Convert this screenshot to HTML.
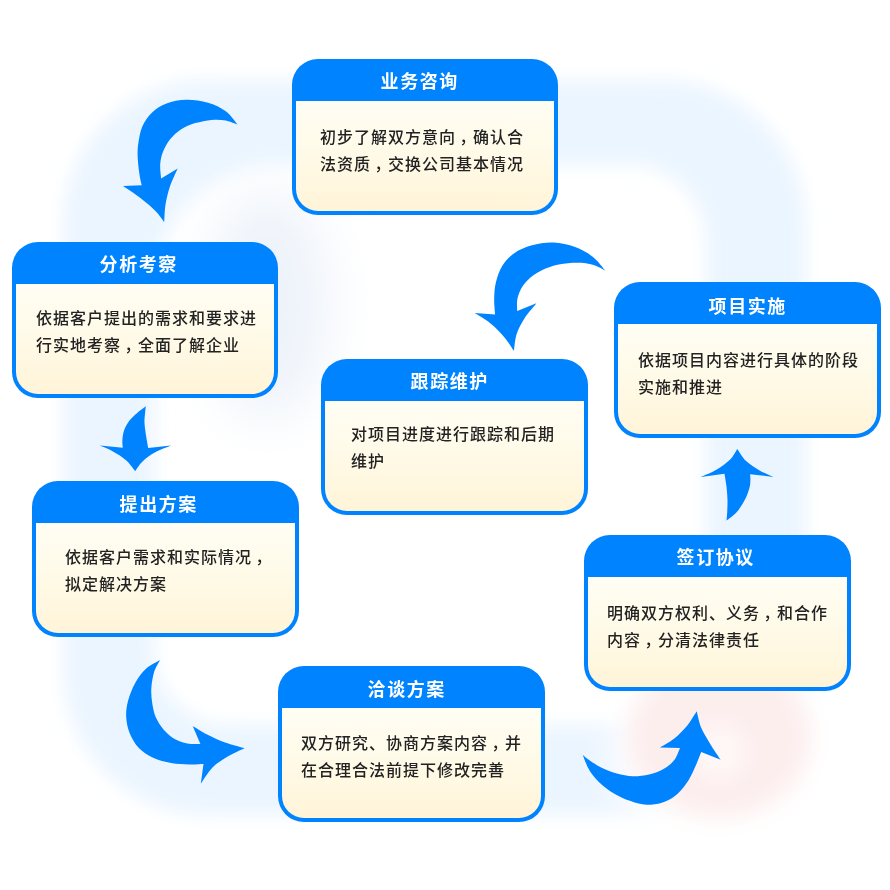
<!DOCTYPE html>
<html lang="zh-CN">
<head>
<meta charset="utf-8">
<title>业务流程</title>
<style>
html,body{margin:0;padding:0;background:#fff;}
body{width:890px;height:890px;position:relative;overflow:hidden;font-family:"Liberation Sans","Noto Sans CJK SC",sans-serif;}
#bg{position:absolute;left:0;top:0;width:890px;height:890px;}
#arrows{position:absolute;left:0;top:0;width:890px;height:890px;}
.box{position:absolute;width:266.5px;height:156px;box-sizing:border-box;border-radius:26px;background:#0083ff;overflow:hidden;}
.box h3{will-change:transform;position:relative;margin:0;padding:3px 11px 0 0;height:39px;line-height:40px;text-align:center;color:#fff;font-size:18px;font-weight:bold;letter-spacing:1.6px;}
.box .bd{position:absolute;left:4px;right:4px;top:42px;bottom:4px;border-radius:0 0 22px 22px;background:linear-gradient(#fffef4 0%,#fffbea 40%,#fff4d8 100%);}
.box p i{font-style:normal;position:relative;left:3.5px;}
.box p{will-change:transform;margin:0;position:absolute;top:23px;font-size:16px;font-weight:500;line-height:27px;color:#222;letter-spacing:1px;white-space:nowrap;}
</style>
</head>
<body>
<svg id="bg" viewBox="0 0 890 890">
<defs>
<filter id="bl" x="-20%" y="-20%" width="140%" height="140%"><feGaussianBlur stdDeviation="9"/></filter>
<filter id="bl2" x="-50%" y="-50%" width="200%" height="200%"><feGaussianBlur stdDeviation="18"/></filter>
<filter id="bl4" x="-50%" y="-50%" width="200%" height="200%"><feGaussianBlur stdDeviation="11"/></filter>
<filter id="bl3" x="-50%" y="-50%" width="200%" height="200%"><feGaussianBlur stdDeviation="25"/></filter>
</defs>
<g filter="url(#bl3)"><ellipse cx="268" cy="305" rx="62" ry="115" fill="#eef3fa"/></g>
<g filter="url(#bl)">
<path fill="#ebf5ff" fill-rule="evenodd" d="M208 80H661A145 145 0 0 1 806 225V670A145 145 0 0 1 661 815H208A145 145 0 0 1 63 670V225A145 145 0 0 1 208 80Z M279 165A125 125 0 0 0 154 290V650A75 75 0 0 0 229 725H631A75 75 0 0 0 706 650V240A75 75 0 0 0 631 165Z"/>
</g>
<g filter="url(#bl2)">
<circle cx="722" cy="750" r="108" fill="#ffffff"/>
</g>
<g filter="url(#bl4)">
<ellipse cx="719" cy="738" rx="92" ry="80" fill="#fdeeee"/>
<circle cx="719" cy="752" r="26" fill="#fff8f8"/>
</g>
</svg>
<svg id="arrows" viewBox="0 0 890 890">
<g fill="#0083ff">
<path d="M237.5 124.6C235.6 122.4 230.8 114.9 225.8 111.3C220.9 107.6 214.5 104.6 207.9 102.7C201.3 100.7 193.2 99.7 186.3 99.8C179.4 99.9 172.2 101.3 166.5 103.4C160.8 105.5 156.2 108.5 152.1 112.4C148.1 116.3 144.6 121.3 142.2 126.7C139.9 132.1 138.9 139.3 138.1 144.7C137.4 150.1 137.5 154.0 137.8 159.1C138.0 164.2 138.9 170.9 139.6 175.3C140.2 179.6 141.3 183.5 141.7 185.2L123.0 186.1C126.1 188.2 135.9 194.5 141.3 198.7C146.8 202.8 151.9 207.3 155.7 211.2C159.5 215.1 162.8 220.2 164.2 222.0C164.4 219.0 164.6 210.0 165.6 204.0C166.6 198.1 168.1 192.0 170.1 186.1C172.1 180.2 176.4 171.5 177.7 168.6L161.1 178.5C161.0 176.2 159.9 168.9 160.2 164.5C160.5 160.1 161.3 156.1 162.9 151.9C164.6 147.7 167.1 143.1 170.1 139.3C173.1 135.6 176.7 132.1 180.9 129.4C185.1 126.7 190.2 124.7 195.3 123.1C200.4 121.6 206.4 120.4 211.5 119.9C216.6 119.5 221.5 119.7 225.8 120.4C230.2 121.2 235.6 123.9 237.5 124.6Z"/>
<path d="M605.6 271.0C603.5 268.7 598.1 261.0 593.0 257.0C587.9 253.0 581.6 249.5 575.1 247.1C568.5 244.7 560.7 242.9 553.5 242.6C546.3 242.3 538.5 243.5 531.9 245.3C525.3 247.1 518.9 249.9 513.9 253.4C509.0 256.8 505.2 261.2 502.2 266.0C499.3 270.7 497.3 276.7 496.0 282.1C494.6 287.5 494.3 292.9 494.2 298.3C494.0 303.7 494.9 311.8 495.1 314.5L474.7 313.1C477.4 314.8 485.5 319.3 490.6 323.5C495.6 327.6 501.0 333.3 504.9 337.9C508.8 342.4 512.4 348.7 513.9 350.8C514.4 348.1 514.8 339.7 516.6 334.3C518.4 328.8 521.4 323.2 524.7 318.1C528.0 312.9 534.5 305.8 536.4 303.3L517.2 310.9C517.2 308.8 516.6 302.5 517.5 298.3C518.5 294.1 520.2 289.6 522.9 285.7C525.6 281.8 529.2 278.1 533.7 274.9C538.2 271.8 544.2 268.8 549.9 266.9C555.6 264.9 561.9 263.9 567.9 263.3C573.9 262.7 580.7 262.7 585.8 263.3C590.9 263.9 595.1 265.6 598.4 266.9C601.7 268.1 604.4 270.3 605.6 271.0Z"/>
<path d="M145.8 406.2C144.4 407.4 139.9 410.5 137.2 413.0C134.4 415.4 131.5 418.0 129.3 420.8C127.2 423.7 125.4 426.6 124.3 429.8C123.1 433.0 122.6 436.9 122.4 439.9C122.1 442.9 122.7 446.5 122.8 447.8L99.9 445.6C102.0 446.5 108.1 448.7 112.5 451.2C116.8 453.6 122.2 456.8 126.0 460.2C129.8 463.5 133.7 469.3 135.3 471.2C136.5 469.5 139.5 464.4 142.8 461.3C146.1 458.1 150.4 454.9 155.2 452.3C159.9 449.7 168.5 446.7 171.1 445.6L148.2 448.0C147.9 446.1 146.8 440.7 146.2 436.6C145.6 432.4 144.7 427.0 144.5 423.1C144.3 419.2 144.8 415.8 145.1 413.0C145.3 410.2 145.7 407.4 145.8 406.2Z"/>
<path d="M160.0 660.1C157.6 661.6 150.1 664.9 146.0 668.8C141.8 672.6 138.2 677.8 135.2 683.1C132.2 688.5 129.5 695.4 128.0 701.1C126.5 706.8 125.9 711.9 126.2 717.3C126.5 722.7 127.7 728.4 129.8 733.5C131.9 738.6 134.9 743.8 138.8 747.9C142.7 751.9 147.8 755.2 153.1 757.8C158.5 760.3 165.1 762.0 171.1 763.1C177.1 764.3 183.7 764.3 189.1 764.4C194.5 764.6 201.1 764.1 203.5 764.0L200.8 783.8C202.7 781.1 208.1 772.1 212.5 767.6C216.8 763.1 221.5 760.1 226.9 756.9C232.2 753.6 241.5 749.7 244.5 748.2C241.2 747.3 231.3 744.8 225.1 742.5C218.8 740.2 212.5 737.1 207.1 734.4C201.7 731.6 195.1 727.3 192.7 725.9L200.4 743.9C198.2 743.8 191.6 744.2 187.3 743.4C183.0 742.5 178.6 741.1 174.7 738.9C170.8 736.6 167.1 733.5 163.9 729.9C160.8 726.3 157.8 721.8 155.8 717.3C153.9 712.8 153.0 707.7 152.2 702.9C151.5 698.1 151.0 693.6 151.3 688.5C151.6 683.4 152.6 677.1 154.0 672.4C155.5 667.6 159.0 662.2 160.0 660.1Z"/>
<path d="M582.6 754.7C583.8 757.4 586.5 765.8 589.8 770.9C593.1 776.0 597.6 781.1 602.4 785.3C607.2 789.5 613.1 793.2 618.5 796.1C623.9 798.9 629.3 800.9 634.7 802.4C640.1 803.8 645.8 804.8 650.9 804.7C656.0 804.5 660.8 803.3 665.3 801.5C669.8 799.6 674.0 797.0 677.9 793.4C681.8 789.8 685.7 784.5 688.7 779.9C691.6 775.2 693.7 770.1 695.8 765.5C697.9 760.9 700.3 754.3 701.2 752.0L720.7 759.8C718.9 757.1 713.5 749.3 710.2 743.9C707.0 738.6 703.5 733.2 701.2 727.8C699.0 722.3 697.5 714.0 696.7 711.2C695.1 713.7 690.6 721.4 686.9 726.0C683.1 730.5 678.8 734.9 674.3 738.5C669.8 742.1 662.3 746.0 659.9 747.5L680.0 747.9C679.1 749.9 677.0 756.6 674.3 760.1C671.5 763.6 667.7 766.7 663.5 769.1C659.3 771.5 654.2 773.3 649.1 774.5C644.0 775.7 638.3 776.4 632.9 776.3C627.5 776.1 622.1 775.1 616.7 773.6C611.3 772.1 605.4 769.7 600.6 767.3C595.8 764.9 591.0 761.3 588.0 759.2C585.0 757.1 583.5 755.5 582.6 754.7Z"/>
<path d="M726.5 520.6C728.2 519.2 733.6 515.7 736.6 512.2C739.7 508.8 742.6 504.2 744.7 500.1C746.9 496.1 748.5 491.3 749.4 488.0C750.4 484.6 750.3 482.2 750.4 479.9C750.5 477.6 750.2 475.2 750.1 474.2L773.3 476.9C771.0 475.8 764.1 473.1 759.6 470.4C755.0 467.8 749.8 464.6 746.1 461.0C742.4 457.4 738.8 450.9 737.3 448.9C736.1 450.7 733.4 456.2 729.9 459.7C726.4 463.1 721.2 466.9 716.4 469.8C711.6 472.7 703.5 475.7 700.9 476.9L724.5 473.8C724.8 476.0 726.0 482.2 726.5 486.6C727.0 491.0 727.3 495.8 727.5 500.1C727.6 504.4 727.3 508.8 727.2 512.2C727.0 515.7 726.6 519.2 726.5 520.6Z"/>
</g>
</svg>
<div class="box" style="left:291.5px;top:59px"><h3 style="left:0px;top:0px">业务咨询</h3><div class="bd"><p style="left:24px;top:23px">初步了解双方意向<i>，</i>确认合<br>法资质<i>，</i>交换公司基本情况</p></div></div>
<div class="box" style="left:11.5px;top:242px"><h3 style="left:-1px;top:0px">分析考察</h3><div class="bd"><p style="left:20px;top:21.3px">依据客户提出的需求和要求进<br>行实地考察<i>，</i>全面了解企业</p></div></div>
<div class="box" style="left:32px;top:481px"><h3 style="left:-1px;top:0.5px">提出方案</h3><div class="bd"><p style="left:29px;top:21.4px">依据客户需求和实际情况<i>，</i><br>拟定解决方案</p></div></div>
<div class="box" style="left:278px;top:666px"><h3 style="left:0.5px;top:0.5px">洽谈方案</h3><div class="bd"><p style="left:19.2px;top:21.7px">双方研究、协商方案内容<i>，</i>并<br>在合理合法前提下修改完善</p></div></div>
<div class="box" style="left:584px;top:534.5px"><h3 style="left:4px;top:0.4px">签订协议</h3><div class="bd"><p style="left:19.3px;top:23.6px">明确双方权利、义务<i>，</i>和合作<br>内容<i>，</i>分清法律责任</p></div></div>
<div class="box" style="left:614px;top:282px"><h3 style="left:5.8px;top:2.2px">项目实施</h3><div class="bd"><p style="left:20px;top:23px">依据项目内容进行具体的阶段<br>实施和推进</p></div></div>
<div class="box" style="left:321px;top:358.5px"><h3 style="left:0.6px;top:0px">跟踪维护</h3><div class="bd"><p style="left:26.2px;top:20px">对项目进度进行跟踪和后期<br>维护</p></div></div>
</body>
</html>
